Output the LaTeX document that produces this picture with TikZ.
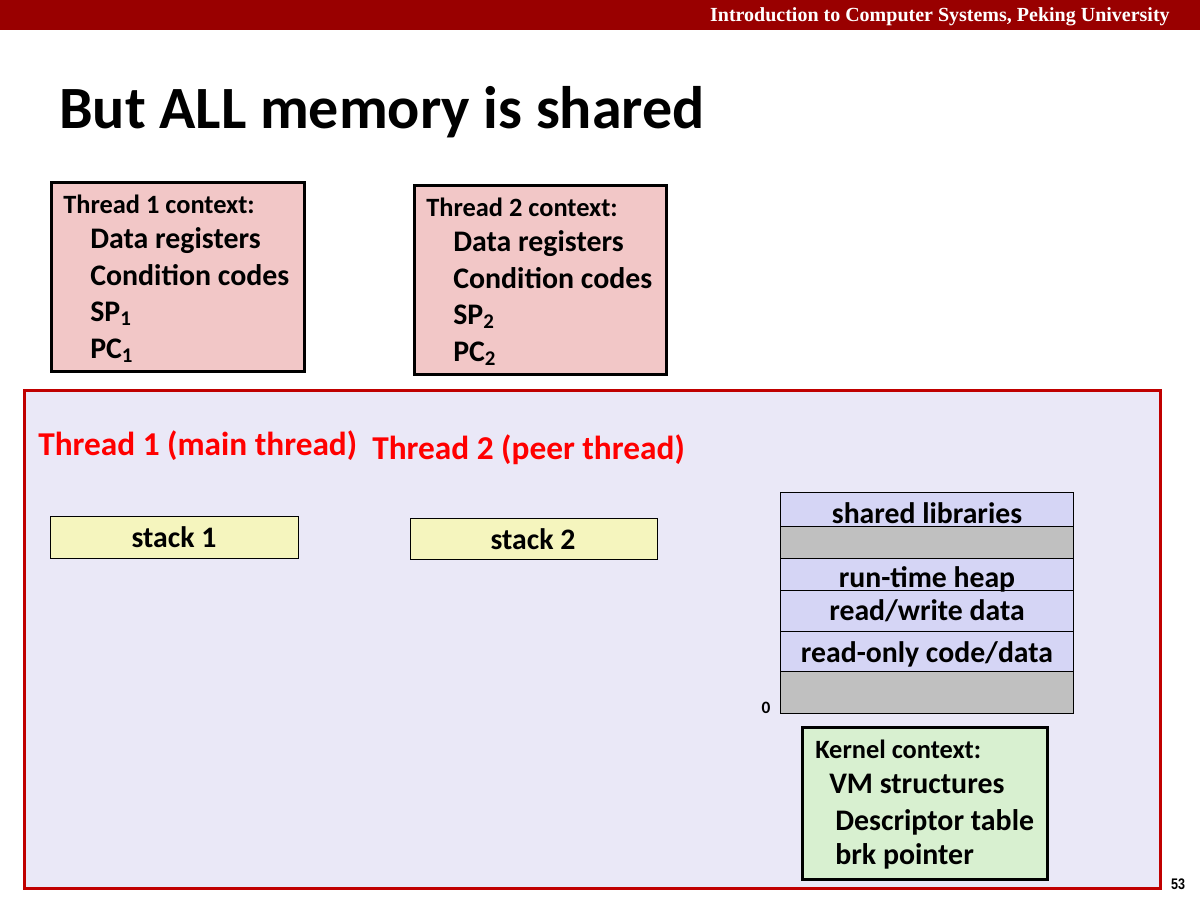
\documentclass[tikz,border=0pt]{standalone}
\usepackage{fontspec}
\setmainfont{Carlito}
\newfontfamily\hdrfont{Liberation Serif}
\newfontfamily\numfont[FakeStretch=0.82]{Liberation Sans}
\definecolor{hdrred}{RGB}{153,0,0}
\definecolor{framered}{RGB}{192,0,0}
\definecolor{pinkfill}{RGB}{242,199,199}
\definecolor{lavbg}{RGB}{234,232,247}
\definecolor{memrow}{RGB}{213,213,245}
\definecolor{memgray}{RGB}{192,192,192}
\definecolor{stackfill}{RGB}{245,245,190}
\definecolor{kernfill}{RGB}{216,240,208}
\definecolor{labred}{RGB}{255,0,0}
\tikzset{
  ctxbox/.style={draw=black, line width=2.25pt},
  thinbox/.style={draw=black, line width=0.6pt},
  ctxhead/.style={anchor=base west, inner sep=0pt, font=\bfseries\fontsize{19.8}{22}\selectfont},
  ctxline/.style={anchor=base west, inner sep=0pt, font=\bfseries\fontsize{22.4}{26}\selectfont},
  thlabel/.style={anchor=base west, inner sep=0pt, text=labred, font=\bfseries\fontsize{25}{28}\selectfont},
  celltext/.style={anchor=base, inner sep=0pt, font=\bfseries\fontsize{22.3}{26}\selectfont},
}
\begin{document}
\begin{tikzpicture}[x=0.75pt,y=-0.75pt]
\useasboundingbox (0,0) rectangle (1200,900);
\fill[white] (0,0) rectangle (1200,900);
% header
\fill[hdrred] (0,0) rectangle (1200,30);
\node[anchor=base east, inner sep=0pt, text=white, font=\hdrfont\bfseries\fontsize{15}{17}\selectfont] (hdr) at (1170,21) {Introduction to Computer Systems, Peking University};
% title
\node[anchor=base west, inner sep=0pt, font=\bfseries\fontsize{45}{50}\selectfont] (title) at (59,128) {But ALL memory is shared};
% thread 1 context
\draw[ctxbox, fill=pinkfill] (51,182) rectangle (304,371);
\node[ctxhead] (t1h) at (63,213) {Thread 1 context:};
\node[ctxline] (t1a) at (90,248) {Data registers};
\node[ctxline] (t1b) at (90,285) {Condition codes};
\node[ctxline] (t1c) at (90,321) {SP\textsubscript{1}};
\node[ctxline] (t1d) at (90,358) {PC\textsubscript{1}};
% thread 2 context
\draw[ctxbox, fill=pinkfill] (414,185) rectangle (666,374);
\node[ctxhead] (t2h) at (426,216) {Thread 2 context:};
\node[ctxline] (t2a) at (453,251) {Data registers};
\node[ctxline] (t2b) at (453,288) {Condition codes};
\node[ctxline] (t2c) at (453,324) {SP\textsubscript{2}};
\node[ctxline] (t2d) at (453,361) {PC\textsubscript{2}};
% big frame
\draw[draw=framered, line width=2.25pt, fill=lavbg] (24,390) rectangle (1160,888);
\node[thlabel] (th1) at (38,455) {Thread 1 (main thread)};
\node[thlabel] (th2) at (372,459) {Thread 2 (peer thread)};
% stacks
\draw[thinbox, fill=stackfill] (50,516) rectangle (298,558);
\node[celltext] (s1) at (174,547) {stack 1};
\draw[thinbox, fill=stackfill] (410,518) rectangle (657,559);
\node[celltext] (s2) at (533,549) {stack 2};
% memory column
\draw[thinbox, fill=memrow] (780,492) rectangle (1073,526);
\draw[thinbox, fill=memgray] (780,526) rectangle (1073,558);
\draw[thinbox, fill=memrow] (780,558) rectangle (1073,590);
\draw[thinbox, fill=memrow] (780,590) rectangle (1073,631);
\draw[thinbox, fill=memrow] (780,631) rectangle (1073,671);
\draw[thinbox, fill=memgray] (780,671) rectangle (1073,713);
\node[celltext] (m1) at (927,523) {shared libraries};
\node[celltext] (m3) at (927,587) {run-time heap};
\node[celltext] (m4) at (927,620) {read/write data};
\node[celltext] (m5) at (927,662) {read-only code/data};
\node[anchor=base, inner sep=0pt, font=\bfseries\fontsize{13}{15}\selectfont] (zero) at (766,713) {0};
% kernel context
\draw[ctxbox, fill=kernfill] (802,727) rectangle (1047,879);
\node[ctxhead] (kh) at (815,758) {Kernel context:};
\node[ctxline] (ka) at (829,793) {VM structures};
\node[ctxline] (kb) at (835,830) {Descriptor table};
\node[ctxline] (kc) at (835,864) {brk pointer};
% page number
\node[anchor=base, inner sep=0pt, font=\numfont\bfseries\fontsize{11.5}{13}\selectfont] (pg) at (1178,889) {53};
\end{tikzpicture}
\end{document}
